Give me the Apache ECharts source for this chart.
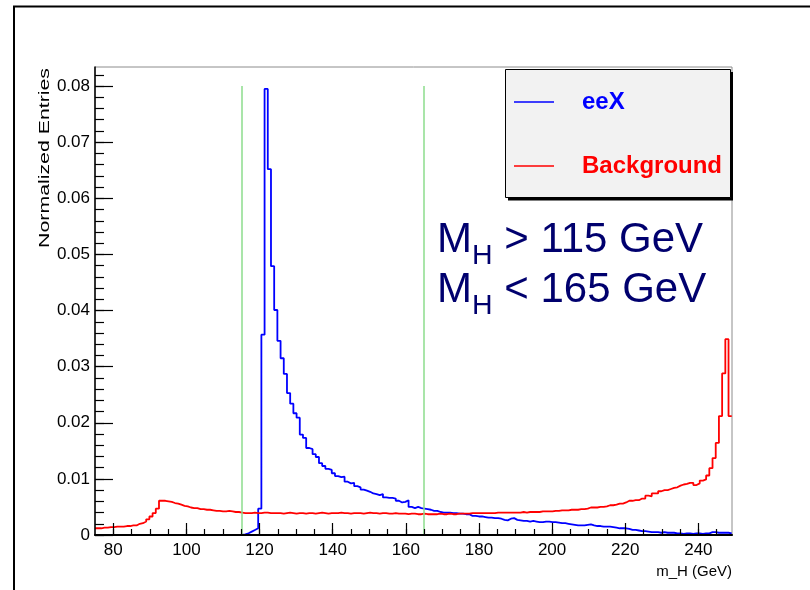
<!DOCTYPE html>
<html>
<head>
<meta charset="utf-8">
<title>m_H distribution: eeX vs Background</title>
<script src="https://cdn.jsdelivr.net/npm/echarts@6/dist/echarts.min.js"></script>
<style>
  html, body { margin: 0; padding: 0; background: #ffffff; }
  #chart { width: 810px; height: 590px; }
</style>
</head>
<body>
<div id="chart"></div>
<script>
// Histogram binning: 0.875 GeV bins starting at 75 GeV
const binStart = 75;
const binWidth = 0.875;

// Normalized entries per bin, signal (eeX)
const eeX = [
  0, 0, 0, 0, 0, 0, 0, 0,
  0, 0, 0, 0, 0, 0, 0, 0,
  0, 0, 0, 0, 0, 0, 0, 0,
  0, 0, 0, 0, 0, 0, 0, 0,
  0, 0, 0, 0, 0, 0, 0, 0,
  0, 0, 0, 0, 0, 0, 0.0001, 0.0003,
  0.0006, 0.0009, 0.0012, 0.0047, 0.0357, 0.0795, 0.0652, 0.0479,
  0.0401, 0.0346, 0.0315, 0.0287, 0.0253, 0.0234, 0.0217, 0.0209,
  0.0179, 0.0173, 0.0155, 0.0153, 0.0144, 0.0139, 0.0128, 0.0123,
  0.0118, 0.0116, 0.0110, 0.0105, 0.0103, 0.0104, 0.0095, 0.0092,
  0.0093, 0.0087, 0.0085, 0.0081, 0.0079, 0.0077, 0.0074, 0.0073,
  0.0071, 0.0073, 0.0067, 0.0066, 0.0066, 0.0065, 0.0061, 0.0058,
  0.0059, 0.0062, 0.0050, 0.0048, 0.0050, 0.0048, 0.0047, 0.0046,
  0.0045, 0.0043, 0.0043, 0.0041, 0.0040, 0.0040, 0.0040, 0.0039,
  0.0039, 0.0038, 0.0038, 0.0037, 0.0037, 0.0034, 0.0034, 0.0033,
  0.0033, 0.0032, 0.0031, 0.0031, 0.0030, 0.0030, 0.0029, 0.0027,
  0.0026, 0.0029, 0.0030, 0.0027, 0.0026, 0.0025, 0.0025, 0.0024,
  0.0025, 0.0024, 0.0023, 0.0023, 0.0024, 0.0024, 0.0023, 0.0023,
  0.0022, 0.0021, 0.0021, 0.0020, 0.0019, 0.0018, 0.0017, 0.0017,
  0.0017, 0.0018, 0.0019, 0.0017, 0.0016, 0.0016, 0.0015, 0.0015,
  0.0015, 0.0014, 0.0013, 0.0012, 0.0012, 0.0012, 0.0011, 0.0009,
  0.0009, 0.0008, 0.0007, 0.0007, 0.0006, 0.0005, 0.0005, 0.0005,
  0.0004, 0.0005, 0.0004, 0.0004, 0.0004, 0.0003, 0.0003, 0.0002,
  0.0003, 0.0003, 0.0002, 0.0003, 0.0003, 0.0002, 0.0003, 0.0003,
  0.0005, 0.0005, 0.0004, 0.0004, 0.0004, 0.0004, 0.0003
];

// Normalized entries per bin, background
const background = [
  0.0012, 0.0012, 0.0013, 0.0013, 0.0014, 0.0014, 0.0015, 0.0015,
  0.0015, 0.0016, 0.0016, 0.0017, 0.0017, 0.0020, 0.0021, 0.0024,
  0.0028, 0.0033, 0.0039, 0.0047, 0.0061, 0.0061, 0.0060, 0.0059,
  0.0057, 0.0056, 0.0054, 0.0052, 0.0051, 0.0049, 0.0048, 0.0048,
  0.0046, 0.0046, 0.0045, 0.0045, 0.0044, 0.0043, 0.0043, 0.0042,
  0.0042, 0.0043, 0.0042, 0.0041, 0.0041, 0.0040, 0.0039, 0.0039,
  0.0039, 0.0040, 0.0039, 0.0039, 0.0040, 0.0040, 0.0039, 0.0039,
  0.0039, 0.0039, 0.0038, 0.0039, 0.0040, 0.0039, 0.0038, 0.0039,
  0.0039, 0.0038, 0.0039, 0.0039, 0.0038, 0.0039, 0.0040, 0.0039,
  0.0038, 0.0039, 0.0039, 0.0039, 0.0040, 0.0039, 0.0039, 0.0038,
  0.0039, 0.0039, 0.0039, 0.0038, 0.0039, 0.0040, 0.0039, 0.0039,
  0.0038, 0.0039, 0.0039, 0.0038, 0.0038, 0.0039, 0.0038, 0.0038,
  0.0038, 0.0037, 0.0038, 0.0038, 0.0037, 0.0037, 0.0038, 0.0037,
  0.0037, 0.0037, 0.0037, 0.0038, 0.0037, 0.0037, 0.0038, 0.0037,
  0.0037, 0.0038, 0.0038, 0.0038, 0.0038, 0.0039, 0.0039, 0.0039,
  0.0039, 0.0039, 0.0039, 0.0039, 0.0039, 0.0040, 0.0040, 0.0040,
  0.0040, 0.0040, 0.0040, 0.0040, 0.0040, 0.0041, 0.0040, 0.0041,
  0.0041, 0.0041, 0.0041, 0.0042, 0.0042, 0.0042, 0.0042, 0.0043,
  0.0043, 0.0044, 0.0044, 0.0044, 0.0045, 0.0045, 0.0045, 0.0046,
  0.0046, 0.0047, 0.0049, 0.0049, 0.0049, 0.0050, 0.0050, 0.0051,
  0.0053, 0.0053, 0.0054, 0.0056, 0.0056, 0.0058, 0.0061, 0.0061,
  0.0062, 0.0062, 0.0065, 0.0065, 0.0070, 0.0069, 0.0074, 0.0074,
  0.0078, 0.0080, 0.0080, 0.0082, 0.0084, 0.0085, 0.0088, 0.0090,
  0.0091, 0.0093, 0.0093, 0.0089, 0.0092, 0.0097, 0.0099, 0.0106,
  0.0119, 0.0137, 0.0164, 0.0212, 0.0288, 0.0349, 0.0212
];

// Mass window cuts (GeV) and height of the cut markers
const cutValues = [115, 165];
const cutTop = 0.08;

// Axis ticks and labels
const xTickValues = [80, 100, 120, 140, 160, 180, 200, 220, 240];
const xTickLabels = ['80', '100', '120', '140', '160', '180', '200', '220', '240'];
const xMinorValues = [80, 85, 90, 95, 100, 105, 110, 115, 120, 125, 130, 135, 140, 145,
  150, 155, 160, 165, 170, 175, 180, 185, 190, 195, 200, 205, 210, 215, 220, 225,
  230, 235, 240, 245];
const yTickValues = [0, 0.01, 0.02, 0.03, 0.04, 0.05, 0.06, 0.07, 0.08];
const yTickLabels = ['0', '0.01', '0.02', '0.03', '0.04', '0.05', '0.06', '0.07', '0.08'];
const yMinorValues = [0, 0.002, 0.004, 0.006, 0.008, 0.01, 0.012, 0.014, 0.016, 0.018,
  0.02, 0.022, 0.024, 0.026, 0.028, 0.03, 0.032, 0.034, 0.036, 0.038,
  0.04, 0.042, 0.044, 0.046, 0.048, 0.05, 0.052, 0.054, 0.056, 0.058,
  0.06, 0.062, 0.064, 0.066, 0.068, 0.07, 0.072, 0.074, 0.076, 0.078,
  0.08, 0.082];

const xMin = 75, xMax = 249.2;
const yMin = 0, yMax = 0.0834;

const SANS = "'Liberation Sans', Arial, Helvetica, sans-serif";
const TEXT_NAVY = '#00006e';

// Turn per-bin contents into the outline of a step histogram
function histOutline(values) {
  const pts = [];
  values.forEach((v, i) => {
    const lo = binStart + i * binWidth;
    pts.push([lo, v], [lo + binWidth, v]);
  });
  return pts;
}

function lookupLabel(values, labels, v) {
  for (let i = 0; i < values.length; i++) {
    if (Math.abs(values[i] - v) < 1e-9) return labels[i];
  }
  return '';
}

const chart = echarts.init(document.getElementById('chart'), null, { renderer: 'canvas' });

const tickStyle = { color: '#000', width: 1.2 };

function massRich() {
  return {
    m: { fontFamily: SANS, fontSize: 42, lineHeight: 42, verticalAlign: 'top', fill: TEXT_NAVY },
    h: { fontFamily: SANS, fontSize: 28.5, lineHeight: 28, padding: [23, 0, 0, 0], verticalAlign: 'top', fill: TEXT_NAVY },
    t: { fontFamily: SANS, fontSize: 42, lineHeight: 42, verticalAlign: 'top', fill: TEXT_NAVY }
  };
}

chart.setOption({
  animation: false,
  backgroundColor: '#ffffff',
  grid: {
    left: 95, right: 78, top: 67, bottom: 55,
    show: true, borderColor: '#8c8c8c', borderWidth: 1,
    backgroundColor: 'transparent',
    outerBoundsMode: 'none'
  },
  legend: {
    orient: 'vertical',
    left: 514, top: 87,
    padding: 0,
    itemWidth: 40, itemHeight: 1.5, itemGap: 34,
    icon: 'rect',
    selectedMode: false,
    z: 10,
    itemStyle: { borderWidth: 0 },
    textStyle: {
      fontFamily: SANS, fontWeight: 'bold', fontSize: 24, lineHeight: 30,
      padding: [0, 0, 0, 23]
    },
    data: [
      { name: 'eeX', textStyle: { color: '#0000ff' } },
      { name: 'Background', textStyle: { color: '#ff0000' } }
    ]
  },
  xAxis: [
    {
      type: 'value', min: xMin, max: xMax, position: 'bottom', z: 5,
      name: 'm_H (GeV)', nameLocation: 'end', nameGap: 0,
      nameTextStyle: {
        fontFamily: SANS, fontSize: 15, color: '#000',
        align: 'right', verticalAlign: 'top', padding: [29, 0, 0, 0]
      },
      axisLine: { show: true, onZero: false, lineStyle: { color: '#000', width: 2.2 } },
      axisTick: { show: true, inside: true, length: 12, customValues: xTickValues, lineStyle: tickStyle },
      axisLabel: {
        show: true, customValues: xTickValues, margin: 7,
        fontFamily: SANS, fontSize: 17, color: '#000',
        formatter: v => lookupLabel(xTickValues, xTickLabels, v)
      },
      splitLine: { show: false }
    },
    {
      type: 'value', min: xMin, max: xMax, position: 'bottom', z: 5,
      axisLine: { show: false, onZero: false },
      axisTick: { show: true, inside: true, length: 6, customValues: xMinorValues, lineStyle: tickStyle },
      axisLabel: { show: false },
      splitLine: { show: false }
    }
  ],
  yAxis: [
    {
      type: 'value', min: yMin, max: yMax, position: 'left', z: 5,
      axisLine: { show: true, onZero: false, lineStyle: { color: '#000', width: 1.5 } },
      axisTick: { show: true, inside: true, length: 18, customValues: yTickValues, lineStyle: tickStyle },
      axisLabel: {
        show: true, customValues: yTickValues, margin: 5,
        fontFamily: SANS, fontSize: 17, color: '#000',
        formatter: v => lookupLabel(yTickValues, yTickLabels, v)
      },
      splitLine: { show: false }
    },
    {
      type: 'value', min: yMin, max: yMax, position: 'left', z: 5,
      axisLine: { show: false, onZero: false },
      axisTick: { show: true, inside: true, length: 9, customValues: yMinorValues, lineStyle: tickStyle },
      axisLabel: { show: false },
      splitLine: { show: false }
    }
  ],
  series: [
    {
      name: 'mass window',
      type: 'line',
      data: [],
      z: 1,
      silent: true,
      markLine: {
        silent: true,
        symbol: ['none', 'none'],
        label: { show: false },
        lineStyle: { color: '#8cdc8c', width: 1.5, type: 'solid' },
        data: cutValues.map(v => [{ coord: [v, 0] }, { coord: [v, cutTop] }])
      }
    },
    {
      name: 'eeX',
      type: 'line',
      xAxisIndex: 0, yAxisIndex: 0,
      data: histOutline(eeX),
      showSymbol: false, symbol: 'none',
      color: '#0000ff',
      lineStyle: { color: '#0000ff', width: 1.8 },
      clip: true, z: 2
    },
    {
      name: 'Background',
      type: 'line',
      xAxisIndex: 0, yAxisIndex: 0,
      data: histOutline(background),
      showSymbol: false, symbol: 'none',
      color: '#ff0000',
      lineStyle: { color: '#ff0000', width: 1.8 },
      clip: true, z: 3
    }
  ],
  graphic: {
    elements: [
      // canvas border (left and top)
      {
        type: 'polyline', z: 0, silent: true,
        shape: { points: [[14, 590], [14, 6.5], [810, 6.5]] },
        style: { stroke: '#000', lineWidth: 2, fill: null }
      },
      // legend box shadow and body
      {
        type: 'rect', z: 8, silent: true,
        shape: { x: 508, y: 72, width: 225, height: 128.5 },
        style: { fill: '#000' }
      },
      {
        type: 'rect', z: 9, silent: true,
        shape: { x: 505.5, y: 69.5, width: 225, height: 128 },
        style: { fill: '#f2f2f2', stroke: '#000', lineWidth: 1 }
      },
      // y axis title
      {
        type: 'text', z: 5, silent: true,
        x: 44.5, y: 68, rotation: Math.PI / 2, scaleX: 1.42,
        style: {
          text: 'Normalized Entries', fontFamily: SANS, fontSize: 15, fill: '#000',
          align: 'right', verticalAlign: 'middle',
          textAlign: 'right', textVerticalAlign: 'middle'
        }
      },
      // mass window annotation
      {
        type: 'text', z: 5, silent: true,
        x: 437, y: 219,
        style: { text: '{m|M}{h|H}{t| > 115 GeV}', fill: TEXT_NAVY, rich: massRich() }
      },
      {
        type: 'text', z: 5, silent: true,
        x: 437, y: 269,
        style: { text: '{m|M}{h|H}{t| < 165 GeV}', fill: TEXT_NAVY, rich: massRich() }
      }
    ]
  }
});
</script>
</body>
</html>
